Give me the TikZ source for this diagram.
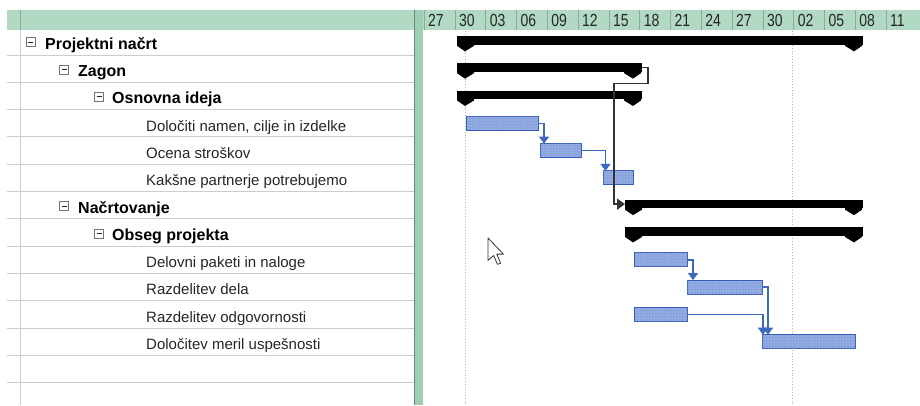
\documentclass[tikz,border=0pt]{standalone}
\usepackage{fontspec}
\setmainfont{Liberation Sans}
\newfontfamily\hdrfont[FakeStretch=0.8]{Liberation Sans}
\usetikzlibrary{arrows.meta,patterns}

\definecolor{hdrgreen}{RGB}{178,217,196}
\definecolor{divgreen}{RGB}{160,206,180}
\definecolor{gridgray}{RGB}{205,205,205}
\definecolor{taskfill}{RGB}{138,164,222}
\definecolor{taskline}{RGB}{52,92,184}
\definecolor{linkblue}{RGB}{60,104,190}
\definecolor{sepgray}{RGB}{140,170,152}

\newcommand{\sumbar}[4]{%
  \node[sumbody, minimum width={#3-#2+17}] (#1) at ({#2-8},{#4-1}) {};
  \fill ({#2-8},{#4+2}) -- ({#2+9},{#4+2}) -- ({#2+9},{#4+4.5}) -- (#2,{#4+10}) -- ({#2-8},{#4+4.5}) -- cycle;
  \fill ({#3-9},{#4+2}) -- ({#3+8},{#4+2}) -- ({#3+8},{#4+4.5}) -- (#3,{#4+10}) -- ({#3-9},{#4+4.5}) -- cycle;
}
\newcommand{\taskbar}[4]{%
  \node[task, minimum width={#3-#2}] (#1) at (#2,#4) {};
}

\begin{document}
\begin{tikzpicture}[x=1pt,y=-1pt,
  task/.style={draw=taskline, line width=1pt, fill=taskfill, minimum height=14pt, inner sep=0pt, outer sep=0pt, anchor=west,
    postaction={pattern=dots, pattern color=white!60!taskfill}},
  sumbody/.style={fill=black, inner sep=0pt, outer sep=0pt, minimum height=8.5pt, anchor=west},
  link/.style={draw=linkblue, line width=1.5pt, -{Triangle[width=10pt,length=7pt]}},
  blk/.style={draw=black!80, line width=1.5pt, -{Triangle[width=11pt,length=8pt]}},
  leaf/.style={anchor=base west, inner sep=0pt, font=\fontsize{15}{18}\selectfont, text=black!85},
  sumlbl/.style={anchor=base west, inner sep=0pt, font=\fontsize{16}{19}\selectfont\bfseries},
  hdr/.style={anchor=base west, inner sep=0pt, font=\hdrfont\fontsize{17.5}{20}\selectfont, text=black!85},
  minus/.style={draw=black!55, fill=white, minimum size=9pt, inner sep=0pt, line width=0.7pt,
    path picture={\draw[black!85, line width=1pt] ([xshift=2pt]path picture bounding box.west) -- ([xshift=-2pt]path picture bounding box.east);}},
]
\useasboundingbox (0,0) rectangle (920,405);
\fill[white] (0,0) rectangle (920,405);

% header bands
\fill[hdrgreen] (7,10) rectangle (414,30);
\fill[hdrgreen] (423,10) rectangle (920,30);
\fill[divgreen] (414,10) rectangle (423,405);
\draw[sepgray!80!black, line width=0.6pt] (414,10) -- (414,405);

% left grid
\foreach \k in {0,...,12} {
  \draw[gridgray, line width=0.9pt] (7,{55+27.3*\k}) -- (414,{55+27.3*\k});
}
\draw[gridgray, line width=0.9pt] (20,30) -- (20,405);
\draw[sepgray, line width=0.6pt] (20,10) -- (20,30);

% timescale header
\foreach \lab [count=\i from 0] in {27,30,03,06,09,12,15,18,21,24,27,30,02,05,08,11} {
  \draw[sepgray, line width=0.6pt] ({424+30.8*\i},10) -- ({424+30.8*\i},30);
  \node[hdr] (h\i) at ({428+30.8*\i},26.5) {\lab};
}

% dotted date lines
\draw[gray!60, dotted, line width=0.8pt] (465,31) -- (465,405);
\draw[gray!60, dotted, line width=0.8pt] (792,31) -- (792,405);

% task names
\node[minus] (m1) at (30.5,42.3) {};
\node[sumlbl] (l1) at (45,49.2) {Projektni načrt};
\node[minus] (m2) at (64,69.6) {};
\node[sumlbl] (l2) at (78,76.5) {Zagon};
\node[minus] (m3) at (99,96.9) {};
\node[sumlbl] (l3) at (112,103.8) {Osnovna ideja};
\node[leaf] (l4) at (146,131.1) {Določiti namen, cilje in izdelke};
\node[leaf] (l5) at (146,158.4) {Ocena stroškov};
\node[leaf] (l6) at (146,185.7) {Kakšne partnerje potrebujemo};
\node[minus] (m7) at (64,206.1) {};
\node[sumlbl] (l7) at (78,213.0) {Načrtovanje};
\node[minus] (m8) at (99,233.4) {};
\node[sumlbl] (l8) at (112,240.3) {Obseg projekta};
\node[leaf] (l9) at (146,267.6) {Delovni paketi in naloge};
\node[leaf] (l10) at (146,294.9) {Razdelitev dela};
\node[leaf] (l11) at (146,322.2) {Razdelitev odgovornosti};
\node[leaf] (l12) at (146,349.5) {Določitev meril uspešnosti};

% summary bars
\sumbar{s1}{465}{854}{41.35}
\sumbar{s2}{465}{633}{68.65}
\sumbar{s3}{465}{633}{95.95}
\sumbar{s4}{633}{854}{205.15}
\sumbar{s5}{633}{854}{232.45}

% task bars
\taskbar{t1}{466}{538}{123.25}
\taskbar{t2}{540}{581}{150.55}
\taskbar{t3}{603}{633}{177.85}
\taskbar{t4}{634}{687}{259.75}
\taskbar{t5}{687}{762}{287.05}
\taskbar{t6}{634}{687}{314.35}
\taskbar{t7}{762}{855}{341.65}

% links
\coordinate (k1) at (648,83.5);
\coordinate (k2) at (614,83.5);
\draw[blk] (s2.east) -| (k1) -- (k2) |- (s4.west);
\draw[link] (t1.east) -| ([xshift=4pt]t2.north west);
\draw[link] (t2.east) -| ([xshift=2.5pt]t3.north west);
\draw[link] (t4.east) -| ([xshift=6pt]t5.north west);
\draw[link] (t5.east) -| ([xshift=6pt]t7.north west);
\draw[link] (t6.east) -| ([xshift=1pt]t7.north west);

% mouse pointer
\draw[black!80, fill=white, line width=0.8pt, line join=round]
  (488,238) -- ++(0,22.4) -- ++(5.6,-4.9) -- ++(3.9,8.8) -- ++(3.1,-1.1) -- ++(-3.8,-9.1) -- ++(6.6,0) -- cycle;
\end{tikzpicture}
\end{document}
